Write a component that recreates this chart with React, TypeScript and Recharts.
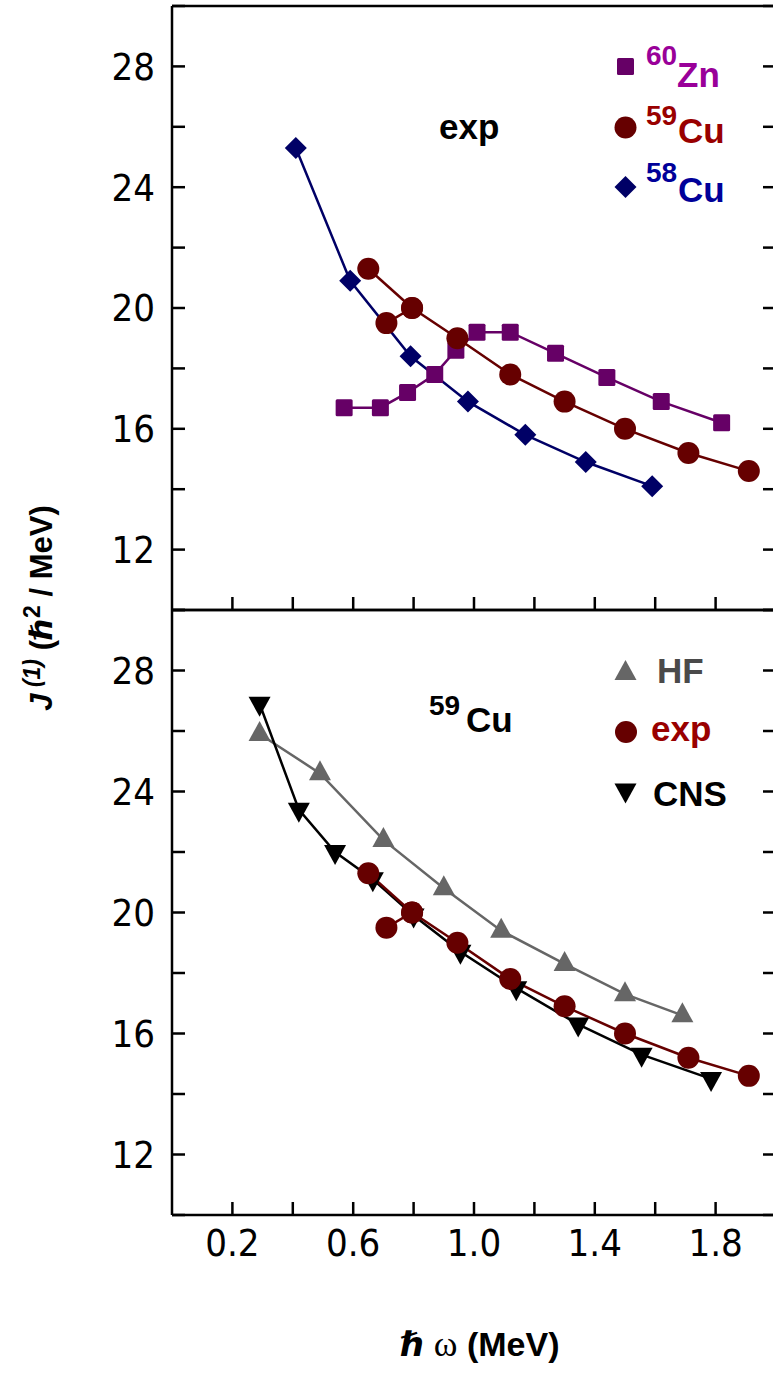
import type { ReactNode } from "react";
import { Line, LineChart, XAxis, YAxis } from "recharts";

// rotational frequency (MeV) and kinematic moment of inertia J(1) (hbar^2/MeV)
const zn60Omega = [0.57, 0.69, 0.78, 0.87, 0.94, 1.01, 1.12, 1.27, 1.44, 1.62, 1.82];
const zn60J = [16.7, 16.7, 17.2, 17.8, 18.6, 19.2, 19.2, 18.5, 17.7, 16.9, 16.2];

const cu59Omega = [0.65, 0.71, 0.795, 0.945, 1.12, 1.3, 1.5, 1.71, 1.91];
const cu59J = [21.3, 19.5, 20.0, 19.0, 17.8, 16.9, 16.0, 15.2, 14.6];

const cu58Omega = [0.41, 0.59, 0.79, 0.98, 1.17, 1.37, 1.59];
const cu58J = [25.3, 20.9, 18.4, 16.9, 15.8, 14.9, 14.1];

const hfOmega = [0.29, 0.49, 0.7, 0.9, 1.09, 1.3, 1.5, 1.69];
const hfJ = [25.9, 24.6, 22.4, 20.8, 19.4, 18.3, 17.3, 16.6];

const cnsOmega = [0.29, 0.42, 0.54, 0.665, 0.8, 0.955, 1.14, 1.345, 1.555, 1.785];
const cnsJ = [26.9, 23.4, 22.0, 21.1, 19.9, 18.7, 17.5, 16.3, 15.3, 14.5];

const omegaTicks = [0.2, 0.4, 0.6, 0.8, 1.0, 1.2, 1.4, 1.6, 1.8];
const omegaLabels = ["0.2", "0.6", "1.0", "1.4", "1.8"];
const jTicks = [10, 12, 14, 16, 18, 20, 22, 24, 26, 28, 30];
const jLabels = [12, 16, 20, 24, 28];

type Pt = { x: number; y: number };
const toPoints = (xs: number[], ys: number[]): Pt[] => xs.map((x, i) => ({ x, y: ys[i] }));

const zn60 = toPoints(zn60Omega, zn60J);
const cu59 = toPoints(cu59Omega, cu59J);
// the lowest-frequency 59Cu point joins the band at its third point
const cu59Main = cu59.slice(1);
const cu59Spur = [cu59[0], cu59[2]];
const cu58 = toPoints(cu58Omega, cu58J);
const hf = toPoints(hfOmega, hfJ);
const cns = toPoints(cnsOmega, cnsJ);

const C = {
  zn: "#660066",
  znText: "#990099",
  cu59: "#660000",
  cu59Text: "#990000",
  cu58: "#000066",
  cu58Text: "#000099",
  hf: "#666666",
  hfText: "#4a4a4a",
  cns: "#000000",
};

const SANS = '"Liberation Sans", Arial, "DejaVu Sans", sans-serif';
const NARROW = '"Liberation Sans Narrow", "DejaVu Sans Condensed", sans-serif';

const CHART_W = 800;
const tickFont = { fontSize: 38, fill: "#000", fontFamily: NARROW };
const frameLine = { stroke: "#000", strokeWidth: 2.5 };

type Shape = "square" | "circle" | "diamond" | "up" | "down";

function Marker({ cx, cy, shape, color }: { cx?: number; cy?: number; shape: Shape; color: string }) {
  if (cx == null || cy == null) return null;
  switch (shape) {
    case "square":
      return <rect x={cx - 8.5} y={cy - 8.5} width={17} height={17} rx={1.5} fill={color} />;
    case "circle":
      return <circle cx={cx} cy={cy} r={11} fill={color} />;
    case "diamond":
      return <path d={`M${cx},${cy - 11}L${cx + 11},${cy}L${cx},${cy + 11}L${cx - 11},${cy}Z`} fill={color} />;
    case "up":
      return <path d={`M${cx},${cy - 13}L${cx + 11},${cy + 7}L${cx - 11},${cy + 7}Z`} fill={color} />;
    case "down":
      return <path d={`M${cx},${cy + 13}L${cx + 11},${cy - 7}L${cx - 11},${cy - 7}Z`} fill={color} />;
  }
}

const dotOf = (shape: Shape, color: string) => (p: any) => (
  <Marker key={`${shape}-${p.index}`} cx={p.cx} cy={p.cy} shape={shape} color={color} />
);

// boxed frame: inward ticks on all four sides, labels on left (and bottom if asked)
function frame(xLabels: boolean) {
  return [
    <XAxis
      key="xb"
      xAxisId="b"
      type="number"
      dataKey="x"
      domain={[0, 2]}
      allowDataOverflow
      ticks={omegaTicks}
      interval={0}
      height={1}
      tickSize={-13}
      tickMargin={27}
      axisLine={frameLine}
      tickLine={frameLine}
      tick={tickFont}
      tickFormatter={(v: number) => (xLabels && omegaLabels.includes(v.toFixed(1)) ? v.toFixed(1) : "")}
    />,
    <XAxis
      key="xt"
      xAxisId="t"
      orientation="top"
      type="number"
      domain={[0, 2]}
      allowDataOverflow
      ticks={omegaTicks}
      interval={0}
      height={1}
      tickSize={-13}
      axisLine={frameLine}
      tickLine={frameLine}
      tick={tickFont}
      tickFormatter={() => ""}
    />,
    <YAxis
      key="yl"
      yAxisId="l"
      type="number"
      domain={[10, 30]}
      allowDataOverflow
      ticks={jTicks}
      interval={0}
      width={1}
      tickSize={-13}
      tickMargin={30}
      axisLine={frameLine}
      tickLine={frameLine}
      tick={tickFont}
      tickFormatter={(v: number) => (jLabels.includes(v) ? String(v) : "")}
    />,
    <YAxis
      key="yr"
      yAxisId="r"
      orientation="right"
      type="number"
      domain={[10, 30]}
      allowDataOverflow
      ticks={jTicks}
      interval={0}
      width={1}
      tickSize={-13}
      axisLine={frameLine}
      tickLine={frameLine}
      tick={tickFont}
      tickFormatter={() => ""}
    />,
  ];
}

function series(key: string, data: Pt[], color: string, shape: Shape) {
  return (
    <Line
      key={key}
      xAxisId="b"
      yAxisId="l"
      data={data}
      dataKey="y"
      type="linear"
      stroke={color}
      strokeWidth={2.5}
      dot={dotOf(shape, color)}
      activeDot={false}
      isAnimationActive={false}
    />
  );
}

function T({ x, y, size, color = "#000", children, anchor = "start" }: {
  x: number;
  y: number;
  size: number;
  color?: string;
  children: ReactNode;
  anchor?: "start" | "middle" | "end";
}) {
  return (
    <text x={x} y={y} fontSize={size} fill={color} fontFamily={SANS} fontWeight="bold" textAnchor={anchor}>
      {children}
    </text>
  );
}

export default function App() {
  return (
    <div style={{ position: "absolute", left: 0, top: 0, width: 773, height: 1373, overflow: "hidden", background: "#fff" }}>
      <div style={{ position: "absolute", left: 0, top: 0 }}>
        <LineChart width={CHART_W} height={640} margin={{ top: 5, right: 23, bottom: 29, left: 171 }}>
          {frame(false)}
          {series("zn60", zn60, C.zn, "square")}
          {series("cu59spur", cu59Spur, C.cu59, "circle")}
          {series("cu59", cu59Main, C.cu59, "circle")}
          {series("cu58", cu58, C.cu58, "diamond")}
        </LineChart>
      </div>
      <div style={{ position: "absolute", left: 0, top: 580 }}>
        <LineChart width={CHART_W} height={710} margin={{ top: 29, right: 23, bottom: 74, left: 171 }}>
          {frame(true)}
          {series("hf", hf, C.hf, "up")}
          {series("cns", cns, C.cns, "down")}
          {series("exp-spur", cu59Spur, C.cu59, "circle")}
          {series("exp", cu59Main, C.cu59, "circle")}
        </LineChart>
      </div>

      <svg width={773} height={1373} style={{ position: "absolute", left: 0, top: 0, pointerEvents: "none" }}>
        {/* upper panel legend */}
        <Marker cx={625.5} cy={66.5} shape="square" color={C.zn} />
        <T x={646} y={65} size={28} color={C.znText}>60</T>
        <T x={677} y={87} size={35} color={C.znText}>Zn</T>
        <Marker cx={625.5} cy={127.5} shape="circle" color={C.cu59} />
        <T x={646} y={125} size={28} color={C.cu59Text}>59</T>
        <T x={678} y={143} size={35} color={C.cu59Text}>Cu</T>
        <Marker cx={625.5} cy={187} shape="diamond" color={C.cu58} />
        <T x={646} y={182} size={28} color={C.cu58Text}>58</T>
        <T x={678} y={202} size={35} color={C.cu58Text}>Cu</T>
        <T x={439} y={139} size={35}>exp</T>

        {/* lower panel legend */}
        <Marker cx={625.5} cy={673} shape="up" color={C.hf} />
        <T x={657} y={683} size={35} color={C.hfText}>HF</T>
        <Marker cx={626} cy={732} shape="circle" color={C.cu59} />
        <T x={651} y={741} size={35} color={C.cu59Text}>exp</T>
        <Marker cx={625.5} cy={790.5} shape="down" color={C.cns} />
        <T x={653} y={806} size={35}>CNS</T>
        <T x={429} y={715} size={28}>59</T>
        <T x={466} y={732} size={35}>Cu</T>

        {/* axis titles */}
        <text transform="rotate(-90)" x={-608} y={52} fontSize={31} fontFamily={SANS} fontWeight="bold" textAnchor="middle">
          <tspan fontStyle="italic">J</tspan>
          <tspan fontStyle="italic" fontSize={23} dy={-12}> (1)</tspan>
          <tspan dy={12}> (ℏ</tspan>
          <tspan fontSize={23} dy={-12}>2</tspan>
          <tspan dy={12}> / MeV)</tspan>
        </text>
        <text x={480} y={1356} fontSize={34} fontFamily={SANS} fontWeight="bold" textAnchor="middle">
          <tspan>ℏ</tspan>
          <tspan fontWeight="normal" fontSize={36} fontFamily='"Liberation Serif", serif'> ω</tspan>
          <tspan> (MeV)</tspan>
        </text>
      </svg>
    </div>
  );
}
